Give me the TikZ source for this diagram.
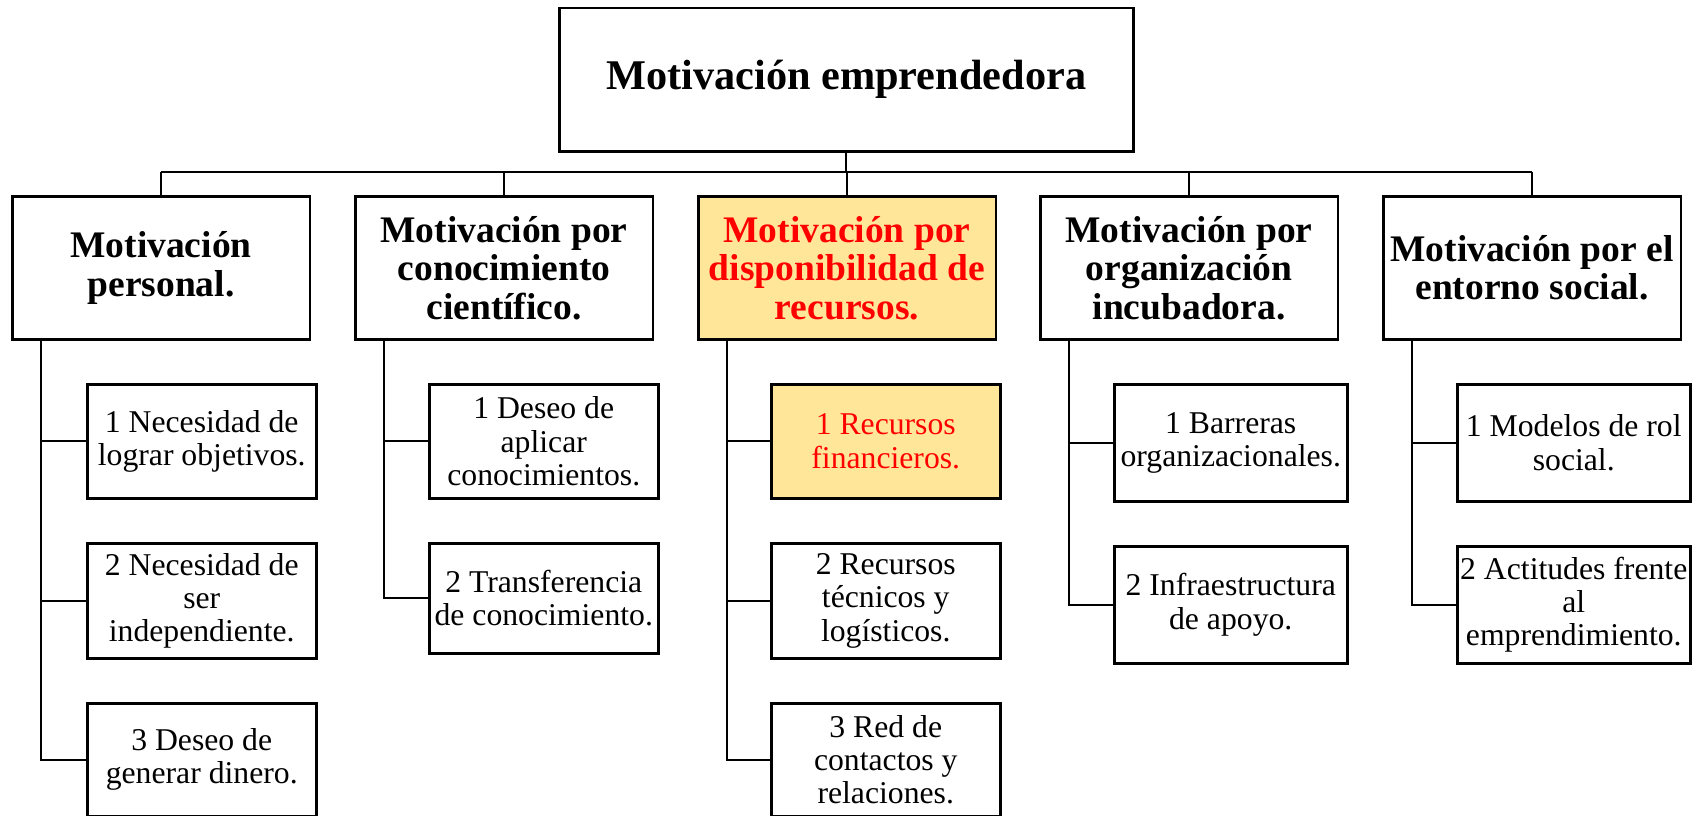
\documentclass[tikz,border=0pt]{standalone}
\usepackage{fontspec}
\setmainfont{Liberation Serif}
\definecolor{hlfill}{HTML}{FFE699}
\tikzset{
  box/.style={draw, line width=2.5pt, anchor=north west, inner sep=0pt, align=center},
  titlebox/.style={box, font=\bfseries\fontsize{42.3}{44}\selectfont},
  hdr/.style={box, minimum width=297.5pt, minimum height=143pt, font=\bfseries\fontsize{37.5}{38.5}\selectfont},
  leaf/.style={box, font=\fontsize{31.7}{33.3}\selectfont},
  leafA/.style={leaf, minimum width=229pt},
  leafB/.style={leaf, minimum width=233pt},
  hl/.style={fill=hlfill, text=red},
  conn/.style={line width=2.2pt}
}
\begin{document}
\begin{tikzpicture}[x=1pt,y=-1pt]
\useasboundingbox (0,0) rectangle (1692,816);
% title
\node[titlebox, minimum width=574pt, minimum height=143pt] (T) at (558,7) {Motivación emprendedora};
% level 1
\node[hdr] (A1) at (11,195) {Motivación\\personal.};
\node[hdr] (A2) at (354,195) {Motivación por\\conocimiento\\científico.};
\node[hdr, hl] (A3) at (697,195) {Motivación por\\disponibilidad de\\recursos.};
\node[hdr] (A4) at (1039,195) {Motivación por\\organización\\incubadora.};
\node[hdr] (A5) at (1382,195) {Motivación por el\\entorno social.};
% children col 1
\node[leafA, minimum height=114pt] (C11) at (86,383) {1 Necesidad de\\lograr objetivos.};
\node[leafA, minimum height=115pt] (C12) at (86,542) {2 Necesidad de\\ser\\independiente.};
\node[leafA, minimum height=113pt] (C13) at (86,702) {3 Deseo de\\generar dinero.};
% col 2
\node[leafA, minimum height=114pt] (C21) at (428,383) {1 Deseo de\\aplicar\\conocimientos.};
\node[leafA, minimum height=110pt] (C22) at (428,542) {2 Transferencia\\de conocimiento.};
% col 3
\node[leafA, minimum height=114pt, hl] (C31) at (770,383) {1 Recursos\\financieros.};
\node[leafA, minimum height=115pt] (C32) at (770,542) {2 Recursos\\técnicos y\\logísticos.};
\node[leafA, minimum height=113pt] (C33) at (770,702) {3 Red de\\contactos y\\relaciones.};
% col 4
\node[leafB, minimum height=117pt] (C41) at (1113,383) {1 Barreras\\organizacionales.};
\node[leafB, minimum height=117pt] (C42) at (1113,545) {2 Infraestructura\\de apoyo.};
% col 5
\node[leafB, minimum height=117pt] (C51) at (1456,383) {1 Modelos de rol\\social.};
\node[leafB, minimum height=117pt] (C52) at (1456,545) {2 Actitudes frente\\al\\emprendimiento.};
% bus
\coordinate (busL) at (A1.north |- 0,172);
\coordinate (busR) at (A5.north |- 0,172);
\draw[conn] (busL) -- (busR);
\draw[conn] (T.south) -- (T.south |- busL);
\foreach \n in {A1,A2,A3,A4,A5} {\draw[conn] (\n.north) -- (\n.north |- busL);}
% trunks
\foreach \i in {1,...,5} {\coordinate (t\i) at ([xshift=30pt]A\i.south west);}
\draw[conn] (t1) |- (C13.west);
\draw[conn] (C11.west) -- (C11.west -| t1);
\draw[conn] (C12.west) -- (C12.west -| t1);
\draw[conn] (t2) |- (C22.west);
\draw[conn] (C21.west) -- (C21.west -| t2);
\draw[conn] (t3) |- (C33.west);
\draw[conn] (C31.west) -- (C31.west -| t3);
\draw[conn] (C32.west) -- (C32.west -| t3);
\draw[conn] (t4) |- (C42.west);
\draw[conn] (C41.west) -- (C41.west -| t4);
\draw[conn] (t5) |- (C52.west);
\draw[conn] (C51.west) -- (C51.west -| t5);
\end{tikzpicture}
\end{document}
